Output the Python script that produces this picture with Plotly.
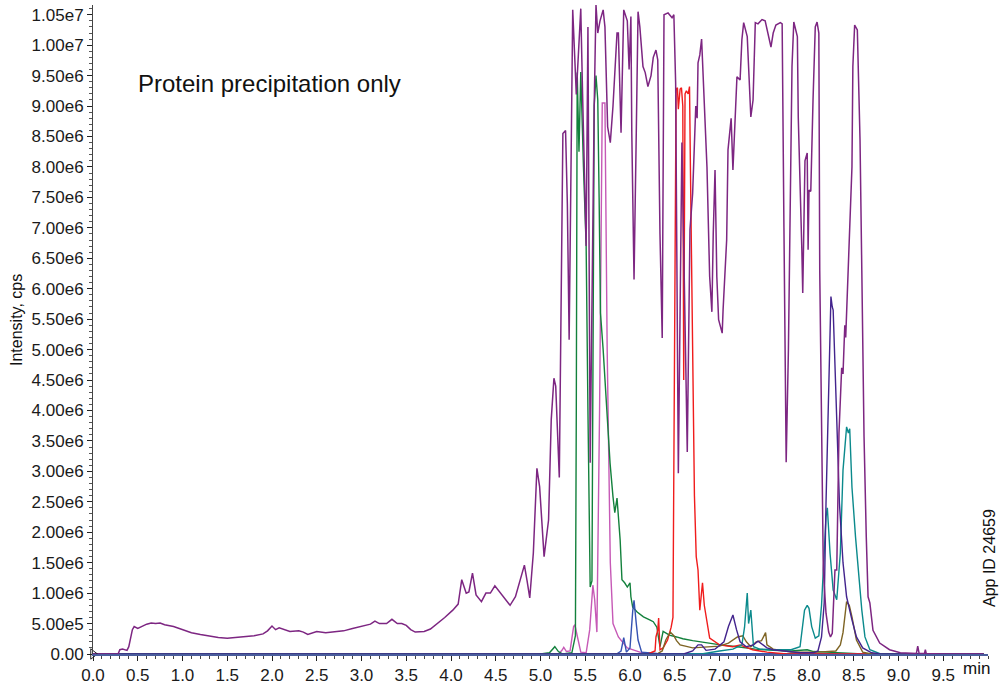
import plotly.graph_objects as go

SCALE = 1e6  # intensities below are in millions of cps

# ---------------- data (time in min, intensity in 1e6 cps) ----------------
purple_t = [0.00, 0.28, 0.30, 0.33, 0.38, 0.40, 0.44, 0.46, 0.50, 0.55, 0.60, 0.65, 0.70, 0.75, 0.80, 0.90,
            1.00, 1.10, 1.20, 1.30, 1.40, 1.50, 1.60, 1.70, 1.80, 1.90, 1.95, 2.00, 2.04, 2.08, 2.12, 2.20,
            2.30, 2.35, 2.40, 2.45, 2.50, 2.60, 2.70, 2.80, 2.90, 3.00, 3.10, 3.15, 3.20, 3.28, 3.34, 3.40,
            3.45, 3.50, 3.55, 3.60, 3.70, 3.77, 3.85, 3.93, 4.02, 4.08, 4.12, 4.17, 4.20, 4.24, 4.28, 4.34,
            4.39, 4.44, 4.49, 4.55, 4.61, 4.66, 4.72, 4.77, 4.82, 4.85, 4.88, 4.92, 4.96, 4.99, 5.04, 5.09,
            5.12, 5.15, 5.17, 5.21, 5.25, 5.28, 5.30, 5.32, 5.36, 5.40, 5.42, 5.45, 5.47, 5.51, 5.53, 5.555,
            5.60, 5.62, 5.64, 5.665, 5.70, 5.72, 5.75, 5.78, 5.81, 5.855, 5.87, 5.90, 5.93, 5.97, 5.99, 6.01,
            6.02, 6.045, 6.07, 6.09, 6.11, 6.145, 6.17, 6.20, 6.235, 6.26, 6.29, 6.31, 6.335, 6.36, 6.38, 6.425,
            6.47, 6.49, 6.51, 6.54, 6.58, 6.64, 6.67, 6.70, 6.735, 6.75, 6.76, 6.78, 6.80, 6.82, 6.86, 6.89,
            6.915, 6.93, 6.95, 6.97, 6.99, 7.03, 7.04, 7.08, 7.095, 7.13, 7.15, 7.195, 7.23, 7.25, 7.27, 7.31,
            7.33, 7.35, 7.375, 7.40, 7.43, 7.475, 7.51, 7.54, 7.575, 7.60, 7.63, 7.68, 7.70, 7.72, 7.745, 7.77,
            7.81, 7.83, 7.87, 7.88, 7.90, 7.92, 7.93, 7.955, 7.98, 7.99, 8.00, 8.02, 8.045, 8.07, 8.09, 8.11,
            8.12, 8.145, 8.16, 8.19, 8.22, 8.24, 8.26, 8.29, 8.31, 8.335, 8.365, 8.38, 8.40, 8.41, 8.43, 8.46,
            8.48, 8.49, 8.51, 8.54, 8.55, 8.57, 8.59, 8.615, 8.64, 8.66, 8.68, 8.715, 8.79, 8.90, 9.02, 9.20,
            9.215, 9.23, 9.29, 9.30, 9.31, 9.50, 9.95]
purple_i = [0.00, 0.00, 0.07, 0.08, 0.06, 0.12, 0.40, 0.45, 0.42, 0.46, 0.49, 0.51, 0.50, 0.51, 0.48, 0.45,
            0.40, 0.35, 0.32, 0.29, 0.27, 0.26, 0.27, 0.28, 0.30, 0.33, 0.38, 0.46, 0.40, 0.43, 0.41, 0.37,
            0.38, 0.36, 0.32, 0.35, 0.37, 0.35, 0.36, 0.38, 0.42, 0.46, 0.49, 0.54, 0.50, 0.50, 0.57, 0.50,
            0.50, 0.47, 0.40, 0.36, 0.37, 0.41, 0.50, 0.60, 0.72, 0.82, 1.22, 1.00, 1.02, 1.33, 0.97, 0.86,
            1.00, 1.00, 1.12, 1.00, 0.89, 0.80, 0.94, 1.22, 1.46, 1.20, 0.92, 1.66, 3.05, 2.75, 1.60, 2.20,
            3.85, 4.53, 4.40, 2.90, 8.55, 8.60, 7.40, 5.16, 10.58, 9.19, 9.76, 10.60, 9.20, 6.70, 10.30, 3.14,
            9.00, 10.66, 10.20, 10.40, 10.58, 10.30, 8.66, 8.40, 9.00, 10.20, 10.20, 8.56, 10.58, 10.40, 9.60, 10.47,
            8.56, 6.15, 8.56, 10.55, 10.30, 9.65, 9.55, 9.32, 9.50, 9.80, 9.92, 9.76, 6.90, 5.19, 10.50, 10.53,
            10.45, 10.50, 9.38, 2.97, 8.40, 3.32, 6.97, 7.57, 9.00, 8.80, 9.71, 9.84, 10.10, 9.48, 8.00, 6.20,
            5.62, 6.90, 7.95, 6.20, 5.49, 5.27, 5.65, 6.80, 8.28, 8.80, 7.95, 9.48, 9.43, 10.09, 10.37, 10.14,
            9.38, 8.82, 9.10, 10.37, 10.35, 10.42, 10.40, 10.22, 9.97, 10.20, 10.33, 10.37, 10.35, 7.00, 3.15, 5.00,
            9.65, 10.38, 10.14, 8.82, 7.90, 6.64, 5.93, 8.10, 8.23, 6.64, 7.62, 7.60, 9.10, 10.30, 10.38, 10.20,
            6.30, 3.00, 1.38, 0.67, 0.36, 0.28, 0.34, 1.38, 1.38, 3.63, 4.70, 4.60, 5.40, 5.20, 5.98, 6.90,
            8.00, 9.65, 10.33, 10.25, 9.55, 8.45, 6.30, 3.57, 1.92, 0.94, 0.84, 0.39, 0.18, 0.07, 0.02, 0.01,
            0.13, 0.01, 0.01, 0.07, 0.01, 0.00, 0.00]

green_t = [0.00, 5.00, 5.10, 5.16, 5.20, 5.25, 5.35, 5.39, 5.40, 5.41, 5.43, 5.45, 5.48, 5.51, 5.53, 5.555,
           5.575, 5.60, 5.62, 5.64, 5.655, 5.67, 5.70, 5.74, 5.755, 5.777, 5.81, 5.83, 5.855, 5.87, 5.89, 5.91,
           5.94, 5.97, 6.00, 6.01, 6.03, 6.08, 6.11, 6.15, 6.22, 6.26, 6.30, 6.335, 6.37, 6.40, 6.44, 6.52,
           6.59, 6.70, 6.86, 7.01, 7.20, 7.40, 7.60, 7.80, 7.98, 8.05, 8.20, 8.40, 8.60, 9.95]
green_i = [0.00, 0.00, 0.02, 0.12, 0.04, 0.00, 0.02, 0.30, 4.00, 9.55, 8.25, 9.56, 8.00, 6.70, 4.00, 1.10,
           1.20, 9.00, 9.50, 9.10, 7.50, 5.60, 5.00, 3.96, 3.57, 3.14, 2.58, 2.32, 2.56, 2.25, 1.87, 1.22,
           1.17, 1.10, 1.17, 0.94, 0.77, 0.69, 0.66, 0.61, 0.56, 0.53, 0.44, 0.12, 0.37, 0.35, 0.31, 0.28,
           0.25, 0.22, 0.18, 0.15, 0.12, 0.08, 0.06, 0.05, 0.07, 0.04, 0.03, 0.02, 0.00, 0.00]

pink_t = [0.00, 5.20, 5.24, 5.26, 5.29, 5.33, 5.37, 5.385, 5.41, 5.45, 5.51, 5.55, 5.585, 5.605, 5.63, 5.66,
          5.69, 5.72, 5.745, 5.78, 5.81, 5.87, 5.97, 6.11, 6.30, 9.95]
pink_i = [0.00, 0.00, 0.06, 0.11, 0.04, 0.05, 0.45, 0.48, 0.30, 0.03, 0.02, 0.40, 1.13, 0.90, 0.36, 4.00,
          9.05, 9.05, 5.00, 1.50, 0.50, 0.28, 0.10, 0.03, 0.00, 0.00]

blue_t = [0.00, 5.85, 5.90, 5.93, 5.96, 6.00, 6.03, 6.045, 6.07, 6.09, 6.13, 6.30, 9.95]
blue_i = [0.00, 0.00, 0.05, 0.27, 0.03, 0.10, 0.70, 0.88, 0.50, 0.23, 0.03, 0.01, 0.00]

red_t = [0.00, 6.20, 6.28, 6.29, 6.31, 6.32, 6.335, 6.37, 6.42, 6.46, 6.48, 6.49, 6.505, 6.515, 6.53, 6.54,
         6.56, 6.575, 6.59, 6.60, 6.615, 6.63, 6.65, 6.665, 6.675, 6.69, 6.70, 6.72, 6.74, 6.76, 6.78, 6.80,
         6.81, 6.83, 6.86, 6.89, 7.00, 7.15, 7.23, 7.37, 7.53, 7.75, 9.95]
red_i = [0.00, 0.00, 0.05, 0.28, 0.39, 0.59, 0.07, 0.10, 0.23, 0.44, 0.60, 3.00, 7.50, 9.28, 9.30, 8.95,
         9.28, 9.30, 9.00, 4.50, 9.20, 9.25, 9.20, 9.32, 8.00, 6.00, 5.30, 2.60, 1.60, 1.38, 0.72, 1.08,
         1.17, 0.80, 0.50, 0.26, 0.15, 0.12, 0.15, 0.07, 0.03, 0.00, 0.00]

indigo_t = [0.00, 6.60, 6.70, 6.76, 6.80, 6.85, 6.95, 7.05, 7.10, 7.15, 7.19, 7.23, 7.30, 7.38, 7.43, 7.48,
            7.53, 7.60, 7.75, 7.90, 8.05, 8.10, 8.14, 8.17, 8.19, 8.22, 8.245, 8.26, 8.27, 8.31, 8.34, 8.38,
            8.42, 8.48, 8.53, 8.60, 8.70, 8.80, 9.95]
indigo_i = [0.00, 0.00, 0.05, 0.15, 0.15, 0.06, 0.08, 0.20, 0.45, 0.64, 0.40, 0.20, 0.12, 0.15, 0.21, 0.15,
            0.10, 0.07, 0.04, 0.02, 0.02, 0.05, 0.28, 0.84, 2.48, 4.39, 5.87, 5.70, 5.65, 3.85, 2.48, 1.50,
            0.94, 0.56, 0.28, 0.10, 0.02, 0.00, 0.00]

teal_t = [0.00, 6.80, 7.00, 7.15, 7.25, 7.28, 7.31, 7.325, 7.35, 7.38, 7.45, 7.60, 7.80, 7.90, 7.95, 7.98,
          8.00, 8.03, 8.07, 8.11, 8.14, 8.16, 8.19, 8.205, 8.22, 8.235, 8.27, 8.31, 8.35, 8.38, 8.42, 8.44,
          8.455, 8.48, 8.52, 8.55, 8.59, 8.625, 8.68, 8.80, 9.95]
teal_i = [0.00, 0.00, 0.05, 0.08, 0.15, 0.44, 1.00, 0.50, 0.72, 0.12, 0.08, 0.07, 0.07, 0.12, 0.72, 0.80,
          0.75, 0.45, 0.26, 0.30, 0.80, 1.38, 2.25, 2.40, 2.00, 1.66, 1.05, 0.89, 1.66, 3.02, 3.73, 3.63,
          3.70, 2.74, 1.92, 1.38, 0.72, 0.28, 0.07, 0.00, 0.00]

olive_t = [0.00, 6.30, 6.36, 6.40, 6.45, 6.49, 6.52, 6.56, 6.70, 6.85, 7.00, 7.10, 7.20, 7.26, 7.30, 7.35,
           7.41, 7.47, 7.515, 7.53, 7.60, 7.80, 8.10, 8.30, 8.35, 8.38, 8.42, 8.45, 8.48, 8.53, 8.60, 8.70, 9.95]
olive_i = [0.00, 0.00, 0.05, 0.23, 0.36, 0.30, 0.22, 0.15, 0.10, 0.12, 0.13, 0.18, 0.28, 0.30, 0.20, 0.12,
           0.20, 0.22, 0.35, 0.15, 0.08, 0.03, 0.03, 0.05, 0.15, 0.35, 0.86, 0.80, 0.61, 0.23, 0.03, 0.00, 0.00]

baseline_t = [0.00, 9.95]
baseline_i = [0.00, 0.00]

x_ticks = [0.0, 0.5, 1.0, 1.5, 2.0, 2.5, 3.0, 3.5, 4.0, 4.5, 5.0, 5.5, 6.0, 6.5, 7.0, 7.5, 8.0, 8.5, 9.0, 9.5]
x_ticktext = ["0.0", "0.5", "1.0", "1.5", "2.0", "2.5", "3.0", "3.5", "4.0", "4.5", "5.0", "5.5", "6.0",
              "6.5", "7.0", "7.5", "8.0", "8.5", "9.0", "9.5"]
y_ticks_m = [0.0, 0.5, 1.0, 1.5, 2.0, 2.5, 3.0, 3.5, 4.0, 4.5, 5.0, 5.5, 6.0, 6.5, 7.0, 7.5, 8.0, 8.5, 9.0,
             9.5, 10.0, 10.5]
y_ticktext = ["0.00", "5.00e5", "1.00e6", "1.50e6", "2.00e6", "2.50e6", "3.00e6", "3.50e6", "4.00e6",
              "4.50e6", "5.00e6", "5.50e6", "6.00e6", "6.50e6", "7.00e6", "7.50e6", "8.00e6", "8.50e6",
              "9.00e6", "9.50e6", "1.00e7", "1.05e7"]

FONT = "Liberation Sans, Arial, Helvetica, sans-serif"

series = [
    ("baseline", baseline_t, baseline_i, "#4A5D9C", 2.2),
    ("pink", pink_t, pink_i, "#C659B6", 1.4),
    ("green", green_t, green_i, "#13813C", 1.4),
    ("blue", blue_t, blue_i, "#3552B2", 1.4),
    ("red", red_t, red_i, "#F01C1C", 1.4),
    ("olive", olive_t, olive_i, "#7E6424", 1.4),
    ("teal", teal_t, teal_i, "#0B8A8C", 1.4),
    ("indigo", indigo_t, indigo_i, "#43248D", 1.4),
    ("purple", purple_t, purple_i, "#7D2682", 1.5),
]

fig = go.Figure()
for name, t, i, color, w in series:
    fig.add_trace(go.Scatter(x=t, y=[v * SCALE for v in i], mode="lines", name=name,
                             line=dict(color=color, width=w), hoverinfo="skip"))

# small open triangle marker at origin
fig.add_trace(go.Scatter(x=[baseline_t[0]], y=[baseline_i[0]], mode="markers", cliponaxis=False,
                         marker=dict(symbol="triangle-right-open", size=9, color="#222",
                                     line=dict(width=1, color="#222")), hoverinfo="skip"))

fig.update_layout(
    width=1000, height=684,
    margin=dict(l=93, r=12, t=5, b=30, autoexpand=False),
    paper_bgcolor="white", plot_bgcolor="white",
    showlegend=False,
    font=dict(family=FONT, size=17, color="#1a1a1a"),
    xaxis=dict(range=[0, 10.0], showgrid=False, zeroline=False, automargin=False,
               showline=True, linecolor="#4A5D9C", linewidth=2,
               tickmode="array", tickvals=x_ticks, ticktext=x_ticktext,
               ticks="outside", ticklen=5, tickcolor="#222", tickwidth=1,
               minor=dict(dtick=0.1, ticks="outside", ticklen=3, tickcolor="#444", tickwidth=1),
               tickfont=dict(size=17)),
    yaxis=dict(range=[0, 10.66 * SCALE], showgrid=False, zeroline=False, automargin=False,
               showline=True, linecolor="#444", linewidth=1,
               tickmode="array", tickvals=[v * SCALE for v in y_ticks_m], ticktext=y_ticktext,
               ticks="outside", ticklen=5, tickcolor="#222", tickwidth=1,
               minor=dict(dtick=0.1 * SCALE, ticks="outside", ticklen=3, tickcolor="#555", tickwidth=1),
               tickfont=dict(size=17)),
)

fig.add_annotation(text="Protein precipitation only", xref="paper", yref="paper",
                   x=(136 - 93) / 895, y=(654 - 84) / 649, xanchor="left", yanchor="middle",
                   showarrow=False, font=dict(size=24, family=FONT, color="#111"))
fig.add_annotation(text="Intensity, cps", xref="paper", yref="paper",
                   x=(16 - 93) / 895, y=(654 - 320) / 649, xanchor="center", yanchor="middle",
                   textangle=-90, showarrow=False, font=dict(size=16, family=FONT, color="#111"))
fig.add_annotation(text="App ID 24659", xref="paper", yref="paper",
                   x=(989 - 93) / 895, y=(654 - 558) / 649, xanchor="center", yanchor="middle",
                   textangle=-90, showarrow=False, font=dict(size=16, family=FONT, color="#111"))
fig.add_annotation(text="min", xref="x", yref="paper", x=9.87, y=0, yshift=-3,
                   xanchor="center", yanchor="top", showarrow=False,
                   font=dict(size=17, family=FONT, color="#111"))

fig.write_html("out.html")
